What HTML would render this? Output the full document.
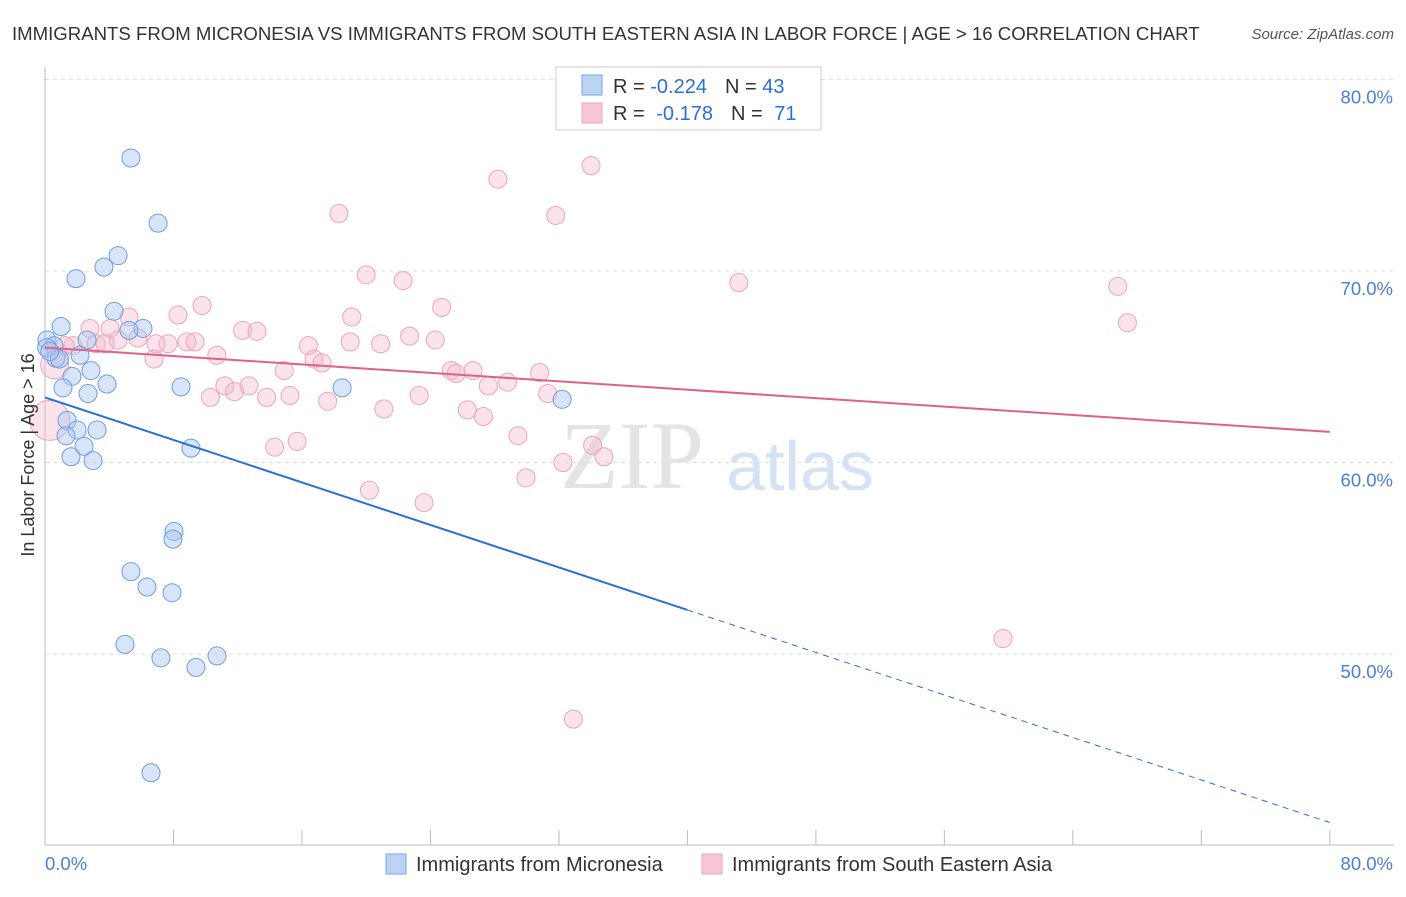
<!DOCTYPE html>
<html><head><meta charset="utf-8"><style>
body{margin:0;background:#fff;font-family:"Liberation Sans",sans-serif;}
svg text{font-family:"Liberation Sans",sans-serif;}
</style></head><body>
<svg width="1406" height="892" viewBox="0 0 1406 892" id="chart">
<text x="12" y="40" font-size="18.6" fill="#333">IMMIGRANTS FROM MICRONESIA VS IMMIGRANTS FROM SOUTH EASTERN ASIA IN LABOR FORCE | AGE &gt; 16 CORRELATION CHART</text>
<text x="1394" y="39" font-size="15" fill="#555" font-style="italic" text-anchor="end">Source: ZipAtlas.com</text>
<text x="632" y="488" font-size="96" fill="#e4e4e4" text-anchor="middle" style="font-family:'Liberation Serif',serif">ZIP</text>
<text x="800" y="490" font-size="70" fill="#d4e2f4" text-anchor="middle">atlas</text>
<g id="grid"></g>
<g id="axes"></g>
<g id="marks"></g>
<g id="lines"></g>
<text x="34" y="455" font-size="18" fill="#333" text-anchor="middle" transform="rotate(-90 34 455)">In Labor Force | Age &gt; 16</text>
<g>
<rect x="556" y="67" width="265" height="63" fill="#fff" stroke="#ccc"/>
<rect x="582" y="75" width="20" height="20" fill="#bcd4f4" stroke="#7aa6e4"/>
<rect x="582" y="103" width="20" height="20" fill="#f9c8d6" stroke="#eca0b8"/>
<text x="613" y="93" font-size="20" fill="#333">R = <tspan fill="#2a6fd6">-0.224</tspan><tspan dx="18">N = </tspan><tspan fill="#2a6fd6">43</tspan></text>
<text x="613" y="120" font-size="20" fill="#333">R = <tspan fill="#2a6fd6" dx="6">-0.178</tspan><tspan dx="18">N = </tspan><tspan fill="#2a6fd6" dx="6">71</tspan></text>
</g>
<g>
<rect x="386" y="854" width="20" height="20" fill="#bcd4f4" stroke="#7aa6e4"/>
<text x="416" y="871" font-size="20" fill="#333">Immigrants from Micronesia</text>
<rect x="702" y="854" width="20" height="20" fill="#f9c8d6" stroke="#eca0b8"/>
<text x="732" y="871" font-size="20" fill="#333">Immigrants from South Eastern Asia</text>
</g>
</svg>
<script>
const blueX=[5.35,7.04,4.55,3.67,1.93,4.30,1.0,6.1,0.12,0.56,2.62,5.23,2.18,0.68,2.86,1.68,3.86,1.12,8.47,2.68,18.5,32.2,1.37,3.24,2.0,1.31,2.43,9.09,1.62,2.99,8.03,7.97,5.35,6.35,7.91,4.98,10.71,7.22,9.40,6.60,0.1,0.9,0.3];
const blueY=[75.9,72.5,70.8,70.2,69.6,67.9,67.1,67.0,66.4,66.1,66.4,66.9,65.6,65.45,64.8,64.5,64.1,63.9,63.95,63.6,63.9,63.3,62.2,61.7,61.7,61.4,60.85,60.75,60.3,60.1,56.4,56.0,54.3,53.5,53.2,50.5,49.9,49.8,49.3,43.8,66.0,65.4,65.8];
const pinkX=[34.0,28.2,18.3,31.8,20.0,22.3,43.2,66.8,9.78,24.7,8.28,5.23,19.1,67.4,12.3,13.2,2.8,4.05,3.18,1.74,4.55,22.7,24.3,19.0,20.9,5.79,7.66,8.84,9.34,6.91,16.4,1.25,3.74,10.7,6.79,16.75,17.25,14.9,25.3,25.6,26.65,30.8,11.2,12.7,11.8,28.8,27.6,15.25,10.3,13.8,17.6,23.3,31.3,21.1,26.3,27.3,29.45,15.7,14.3,34.1,34.8,32.25,29.95,20.2,23.6,59.65,32.9];
const pinkY=[75.5,74.8,73.0,72.9,69.8,69.5,69.4,69.2,68.2,68.1,67.7,67.6,67.6,67.3,66.9,66.85,67.0,67.0,66.2,66.1,66.4,66.6,66.4,66.3,66.2,66.5,66.2,66.3,66.3,66.2,66.1,66.1,66.2,65.6,65.4,65.4,65.2,64.8,64.8,64.65,64.8,64.7,64.0,64.0,63.7,64.2,64.0,63.5,63.4,63.4,63.2,63.5,63.6,62.8,62.75,62.4,61.4,61.1,60.8,60.9,60.3,60.0,59.2,58.55,57.9,50.8,46.6];
const bigPinkX=[0.3,0.6];
const bigPinkY=[62.2,65.1];
const bigPinkR=[20,14];
const blueTrend=[63.4,52.3,41.2];
const pinkTrend=[66.0,61.6];
const yTicks=[80,70,60,50];
const yTickLabels=["80.0%","70.0%","60.0%","50.0%"];
const xTicks=[0,8,16,24,32,40,48,56,64,72,80];
const NS="http://www.w3.org/2000/svg";
const sx=v=>45+v*16.06;
const sy=v=>79.5+(80-v)*19.15;
function mk(tag,attrs,parent){const e=document.createElementNS(NS,tag);for(const k in attrs)e.setAttribute(k,attrs[k]);document.getElementById(parent).appendChild(e);return e;}
yTicks.forEach((t,i)=>{
 const g=mk('line',{x1:45,x2:1394,y1:sy(t),y2:sy(t),stroke:'#ddd','stroke-dasharray':'4,4'},'grid');
 
 
 const l=mk('text',{x:1393,y:sy(t)+24,'font-size':18.5,fill:'#4a7fd4','text-anchor':'end'},'axes');
 l.textContent=yTickLabels[i];
 
 
});
const ax=mk('line',{x1:45,x2:45,y1:67,y2:845,stroke:'#bbb'},'axes');


const bx=mk('line',{x1:45,x2:1394,y1:845,y2:845,stroke:'#bbb'},'axes');


xTicks.forEach(t=>{
 const k=mk('line',{x1:sx(t),x2:sx(t),y1:830,y2:845,stroke:'#bbb'},'axes');
 
 
});
const x0=mk('text',{x:45,y:870,'font-size':18.5,fill:'#4a7fd4'},'axes');x0.textContent='0.0%';


const x1=mk('text',{x:1393,y:870,'font-size':18.5,fill:'#4a7fd4','text-anchor':'end'},'axes');x1.textContent='80.0%';


bigPinkX.forEach((v,i)=>{
 const c=mk('circle',{cx:sx(v),cy:sy(bigPinkY[i]),r:bigPinkR[i],fill:'rgba(246,186,204,0.4)',stroke:'#eba4bc','stroke-width':1},'marks');
 
 
});
pinkX.forEach((v,i)=>{
 const c=mk('circle',{cx:sx(v),cy:sy(pinkY[i]),r:9,fill:'rgba(246,186,204,0.4)',stroke:'#eba4bc','stroke-width':1},'marks');
 
 
});
blueX.forEach((v,i)=>{
 const c=mk('circle',{cx:sx(v),cy:sy(blueY[i]),r:9,fill:'rgba(168,198,240,0.45)',stroke:'#6e9de0','stroke-width':1},'marks');
 
 
});
const b1=mk('line',{x1:sx(0),y1:sy(blueTrend[0]),x2:sx(40),y2:sy(blueTrend[1]),stroke:'#2a6fd6','stroke-width':2},'lines');


const b2=mk('line',{x1:sx(40),y1:sy(blueTrend[1]),x2:sx(80),y2:sy(blueTrend[2]),stroke:'#2a6fd6','stroke-width':1,'stroke-dasharray':'6,5'},'lines');


const p1=mk('line',{x1:sx(0),y1:sy(pinkTrend[0]),x2:sx(80),y2:sy(pinkTrend[1]),stroke:'#e0608a','stroke-width':2},'lines');


</script>
</body></html>
